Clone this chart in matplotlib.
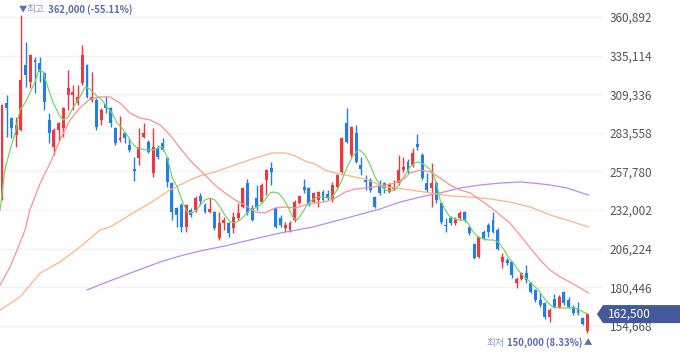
import matplotlib
matplotlib.use('Agg')
import matplotlib.pyplot as plt
from matplotlib.patches import Polygon
import numpy as np

plt.rcParams['font.family'] = ['Noto Sans CJK KR', 'DejaVu Sans']

# daily candles (KRW)
opens = [240000, 303500, 293400, 282100, 285400, 328800, 317500, 332200, 330200, 323500,
         292100, 274100, 285400, 286800, 308800, 308800, 303500, 316800, 328800, 305500,
         305500, 292100, 302800, 300100, 286800, 278800, 283400, 275400, 259400, 266700,
         280800, 277400, 256700, 273400, 276800, 266700, 250000, 233300, 235300, 220700,
         232000, 232000, 241400, 235300, 230700, 230700, 213300, 223300, 223300, 220000,
         226700, 234000, 250000, 233300, 240000, 237300, 252000, 260100, 233300, 226700,
         220000, 218700, 225300, 236700, 247400, 246700, 237300, 238700, 244000, 242700,
         238700, 247400, 257400, 290100, 268700, 283400, 262100, 252000, 252000, 240700,
         248700, 250000, 244000, 246000, 250000, 258700, 264100, 262100, 276100, 268700,
         250000, 246700, 250000, 236700, 222000, 226700, 223300, 226700, 230700, 220700,
         209300, 200600, 217300, 222000, 225300, 218700, 197300, 198600, 197300, 183300,
         185900, 189900, 183300, 178600, 171900, 169900, 160600, 172600, 167200, 177200,
         171900, 167200, 166600, 159900, 151200]
highs = [302800, 308800, 294100, 294100, 362000, 344200, 336200, 334200, 334200, 324200,
         296800, 286800, 290800, 300800, 325500, 315500, 315500, 342200, 329500, 324200,
         306800, 300100, 308100, 300800, 287400, 294800, 284100, 280100, 267400, 286800,
         290100, 278800, 286800, 275400, 280100, 267400, 250700, 234000, 236700, 236000,
         233300, 241400, 243400, 236700, 240000, 231300, 230700, 227300, 224000, 230700,
         236700, 247400, 252700, 235300, 248700, 250000, 259400, 264100, 234000, 228700,
         224000, 224700, 238700, 242000, 252700, 247400, 244000, 244700, 245400, 245400,
         250700, 256000, 280800, 300100, 288100, 288800, 267400, 255400, 253400, 241400,
         252000, 250700, 250000, 252000, 268700, 267400, 266100, 273400, 282800, 270100,
         256700, 263400, 251400, 237300, 226700, 228000, 227300, 231300, 231300, 221300,
         210000, 214600, 218700, 223300, 230700, 220000, 203300, 200000, 198000, 187300,
         190600, 195300, 183900, 179300, 176600, 170600, 166600, 175900, 175200, 177900,
         173900, 168600, 170600, 160600, 162500]
lows = [238700, 280800, 280100, 274100, 284800, 314100, 313500, 310100, 317500, 298800,
        276800, 268700, 278800, 280800, 298800, 298800, 302100, 315500, 306800, 304100,
        285400, 288800, 296800, 287400, 275400, 277400, 276800, 270700, 251400, 262100,
        280100, 270100, 254000, 266100, 271400, 247400, 225300, 220700, 217300, 217300,
        227300, 230700, 235300, 230000, 230000, 218700, 212000, 218700, 214000, 216600,
        225300, 233300, 228700, 224700, 232000, 236700, 242000, 248700, 220000, 220700,
        217300, 217300, 224000, 236000, 243400, 234700, 236700, 234000, 238000, 238700,
        237300, 246700, 256700, 276800, 267400, 263400, 255400, 245400, 244000, 233300,
        242000, 243400, 243400, 245400, 248700, 257400, 256700, 260700, 272100, 252000,
        244000, 234000, 236700, 222700, 217300, 222000, 222000, 225300, 224000, 215300,
        199300, 200000, 212000, 214000, 216600, 205300, 193300, 195300, 186600, 179900,
        185300, 183300, 176600, 170600, 167200, 159200, 157200, 166600, 166600, 168600,
        166600, 161900, 161900, 155200, 150000]
closes = [302100, 300100, 286800, 288800, 318800, 322200, 335500, 330800, 324200, 304100,
          283400, 285400, 290100, 300100, 313500, 310800, 307500, 335500, 307500, 307500,
          287400, 298800, 300100, 290100, 276800, 280100, 280100, 272100, 258100, 274100,
          283400, 270700, 274100, 267400, 272100, 250700, 230700, 228700, 220700, 235300,
          228700, 240000, 238000, 230700, 232700, 220000, 223300, 225300, 216600, 227300,
          230000, 246700, 230000, 225300, 234000, 248700, 258700, 257400, 220700, 222000,
          222000, 223300, 237300, 241400, 245400, 235300, 243400, 244000, 238700, 240000,
          248700, 255400, 280100, 277400, 287400, 264100, 259400, 250700, 245400, 234000,
          243400, 246700, 249400, 247400, 258700, 260700, 257400, 270100, 274100, 253400,
          245400, 250000, 238700, 224000, 221300, 223300, 226000, 230000, 225300, 216600,
          200000, 214000, 213300, 217300, 217300, 206000, 200600, 196600, 188600, 185900,
          189900, 185300, 177200, 171900, 168600, 160600, 165200, 167200, 173900, 169900,
          167200, 163200, 163200, 155900, 162500]

# moving averages (candle index, price)
ma5_x = [-0.4, 0.6, 1.7, 2.8, 3.8, 4.9, 5.9, 7.0, 7.8, 8.7, 9.7, 10.8, 11.9, 12.9, 14.0, 15.0,
         16.5, 17.6, 18.6, 20.1, 21.2, 22.2, 23.3, 24.4, 25.4, 26.5, 27.5, 28.6, 29.7, 30.7,
         32.0, 33.1, 33.9, 35.0, 36.0, 37.1, 38.1, 39.2, 40.3, 41.3, 41.9, 43.0, 44.1, 45.1,
         46.2, 47.2, 48.3, 49.4, 50.4, 51.5, 52.5, 53.6, 54.7, 55.7, 56.8, 57.4, 58.5, 59.5,
         60.6, 61.7, 62.5, 63.6, 64.6, 65.7, 66.7, 67.8, 68.9, 69.9, 71.0, 72.0, 73.1, 74.2,
         75.2, 75.8, 76.9, 78.0, 79.0, 80.1, 81.1, 82.2, 83.3, 84.3, 85.4, 86.4, 87.5, 88.1,
         89.2, 90.3, 91.3, 92.2, 92.8, 93.9, 94.9, 96.0, 97.0, 98.1, 98.7, 99.8, 100.8, 101.9,
         103.0, 104.0, 105.1, 106.1, 107.2, 108.3, 109.3, 110.4, 111.4, 112.5, 113.6, 114.6,
         115.7, 116.7, 117.8, 118.9, 119.9, 121.0, 122.0, 123.1, 124.2]
ma5_v = [232000, 258700, 272100, 283400, 298800, 303500, 310100, 317500, 325500, 324200,
         314100, 304100, 296800, 292100, 294100, 300100, 307500, 314100, 312800, 308100,
         305500, 300800, 296800, 290100, 286800, 282100, 276800, 273400, 272700, 272100,
         272100, 273400, 274100, 267400, 254000, 247400, 238700, 230700, 230000, 232000,
         235300, 238700, 240000, 238700, 234000, 228700, 224000, 223300, 225300, 228700,
         232000, 233300, 235300, 238700, 243400, 244000, 243400, 240000, 234000, 226700,
         225300, 230000, 235300, 238700, 240700, 240700, 240000, 240700, 245400, 252000,
         260700, 267400, 271400, 272100, 268700, 262100, 254000, 248700, 245400, 244700,
         245400, 250000, 255400, 260700, 263400, 264100, 262700, 260100, 256700, 247400,
         238700, 232000, 227300, 226000, 225300, 225300, 223300, 217300, 214000, 212600,
         212000, 212000, 210600, 206600, 200600, 196600, 191900, 187900, 185300, 181900,
         178600, 173900, 169900, 167200, 166600, 166600, 166600, 166600, 165900, 163900,
         162500]
ma20_x = [-0.4, 1.7, 3.2, 4.9, 5.9, 8.1, 10.2, 12.3, 14.4, 16.5, 18.6, 20.8, 22.9, 25.0, 27.1,
          29.2, 31.4, 33.5, 35.6, 37.7, 39.8, 41.9, 43.0, 45.1, 47.2, 49.4, 51.5, 53.6, 55.7,
          57.8, 60.0, 62.1, 64.2, 66.3, 68.4, 70.6, 72.7, 74.8, 76.9, 79.0, 81.1, 83.3, 85.4,
          86.4, 88.6, 90.7, 92.8, 94.9, 97.0, 99.2, 101.3, 103.4, 105.5, 107.6, 109.7, 111.9,
          114.0, 116.1, 118.2, 120.3, 122.5, 124.2]
ma20_v = [181900, 193900, 205300, 218700, 232000, 250000, 263400, 278800, 292100, 300100,
          306100, 307500, 307500, 303500, 296800, 293400, 292100, 288800, 282100, 273400,
          265400, 258700, 255400, 248700, 243400, 238700, 235300, 230700, 230000, 233300,
          234000, 233300, 235300, 236700, 237300, 240000, 244000, 246000, 246700, 247400,
          248700, 250000, 253400, 256700, 258700, 257400, 253400, 248700, 245400, 243400,
          238700, 234000, 228700, 223300, 215300, 206600, 198600, 191900, 187300, 183900,
          179900, 176600]
ma60_x = [-0.4, 3.8, 8.1, 12.3, 16.5, 20.8, 22.9, 27.1, 31.4, 35.6, 39.8, 41.9, 45.1, 49.4,
          53.6, 57.2, 60.0, 62.1, 64.2, 66.3, 68.4, 70.6, 72.7, 74.8, 76.9, 79.0, 81.1, 83.3,
          86.4, 90.7, 94.9, 99.2, 103.4, 107.6, 111.9, 116.1, 120.3, 124.2]
ma60_v = [165200, 173900, 189900, 197300, 207300, 218700, 220700, 228700, 236700, 245400,
          252000, 254700, 257400, 262100, 266700, 270100, 270100, 268100, 264700, 262700,
          258700, 256700, 255400, 254000, 252700, 250000, 247400, 246700, 245400, 243400,
          241400, 240700, 239400, 237300, 234000, 228700, 224700, 220700]
ma120_x = [18.0, 22.2, 27.8, 33.5, 37.7, 41.9, 47.2, 52.5, 58.9, 65.9, 73.1, 80.1, 84.3, 88.6,
           92.8, 97.0, 101.3, 105.5, 109.7, 112.5, 116.1, 119.7, 124.2]
ma120_v = [178600, 183900, 190600, 197300, 201300, 204600, 208000, 212000, 216600, 220700,
           226700, 232700, 237300, 240700, 243400, 246700, 248700, 250000, 250700, 250000,
           248700, 246700, 242000]

y_ticks = [154668, 180446, 206224, 232002, 257780, 283558, 309336, 335114, 360892]

RED = '#f0373d'
BLUE = '#1f7fe6'

fig = plt.figure(figsize=(6.8, 3.58), dpi=100)
ax = fig.add_axes([0, 0, 603 / 680, 1])

o = np.array(opens)
h = np.array(highs)
l = np.array(lows)
c = np.array(closes)
x = np.arange(len(c))
cols = np.where(c >= o, RED, BLUE)

ax.vlines(x, l, h, colors=cols, lw=1, zorder=2)
ax.bar(x, np.maximum(np.abs(c - o), 700), bottom=np.minimum(o, c), width=0.62,
       color=cols, linewidth=0, zorder=2)

ax.plot(ma120_x, ma120_v, color='#b68cf4', lw=0.9, zorder=3)
ax.plot(ma60_x, ma60_v, color='#ffb380', lw=0.9, zorder=3)
ax.plot(ma20_x, ma20_v, color='#ff9090', lw=0.9, zorder=3)
ax.plot(ma5_x, ma5_v, color='#78d468', lw=0.9, zorder=3)

ax.set_xlim(-0.42, 127.3)
ax.set_ylim(133170, 372245)
ax.set_xticks([])
ax.set_yticks(y_ticks)
ax.yaxis.tick_right()
ax.set_yticklabels(['{:,}'.format(t) for t in y_ticks])
ax.tick_params(axis='y', length=0, pad=5, labelsize=8.5, labelcolor='#555555')
ax.yaxis.grid(True, color='#f1f1f6', lw=1)
ax.set_axisbelow(True)
for s in ax.spines.values():
    s.set_visible(False)

# high / low markers
ih = int(np.argmax(h))
il = int(np.argmin(l))
last = c[-1]
hi_txt = '{:,} ({:.2f}%)'.format(h[ih], (last - h[ih]) / h[ih] * 100)
lo_txt = '{:,} ({:.2f}%)'.format(l[il], (last - l[il]) / l[il] * 100)

ax.annotate('▼', (ih, h[ih]), xytext=(-2, 6), textcoords='offset pixels',
            ha='left', va='center', fontsize=6, color='#5b6db0')
ax.annotate('최고', (ih, h[ih]), xytext=(6, 6), textcoords='offset pixels',
            ha='left', va='center', fontsize=7, color='#8d98c4')
ax.annotate(hi_txt, (ih, h[ih]), xytext=(27, 6), textcoords='offset pixels',
            ha='left', va='center', fontsize=6.9, color='#5a6caa', fontweight='bold')

ax.annotate('▲', (il, l[il]), xytext=(1, -10), textcoords='offset pixels',
            ha='center', va='center', fontsize=6, color='#5b6db0')
lo = ax.annotate(lo_txt, (il, l[il]), xytext=(-5, -10), textcoords='offset pixels',
                 ha='right', va='center', fontsize=6.9, color='#5a6caa', fontweight='bold')
r = fig.canvas.get_renderer()
lo_w = lo.get_window_extent(r).width
ax.annotate('최저', (il, l[il]), xytext=(-5 - lo_w - 2, -10), textcoords='offset pixels',
            ha='right', va='center', fontsize=7, color='#8d98c4')

# current price tag on the right axis
ypx = ax.transData.transform((0, last))[1]
W, H = 680.0, 358.0
tag = Polygon([(597 / W, ypx / H), (603 / W, (ypx + 9) / H), (1, (ypx + 9) / H),
               (1, (ypx - 9) / H), (603 / W, (ypx - 9) / H)],
              closed=True, transform=fig.transFigure, fc='#44599a', ec='none')
fig.add_artist(tag)
fig.text(608 / W, ypx / H, '{:,}'.format(last), color='white', fontsize=8.5,
         ha='left', va='center')

fig.savefig('out.png', dpi=100)
